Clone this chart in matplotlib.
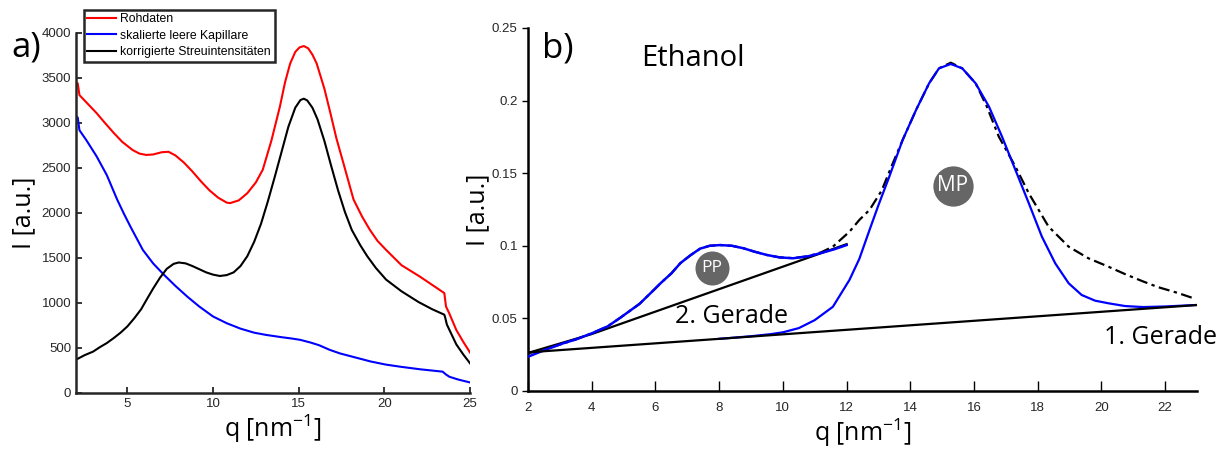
import numpy as np
import matplotlib
matplotlib.use('Agg')
import matplotlib.pyplot as plt

plt.rcParams['font.family'] = ['Open Sans', 'DejaVu Sans']
plt.rcParams['mathtext.fontset'] = 'custom'
plt.rcParams['mathtext.rm'] = 'Open Sans'
plt.rcParams['mathtext.default'] = 'regular'

# ---- panel a: raw data, scaled empty capillary, corrected intensity
q_roh = [2.0, 2.1, 2.2, 2.6, 3.2, 3.6, 4.2, 4.7, 5.3, 5.7, 6.1, 6.5, 7.0, 7.4, 7.8,
         8.3, 8.8, 9.3, 9.8, 10.3, 10.8, 11.0, 11.5, 12.0, 12.5, 12.9, 13.4, 13.9,
         14.2, 14.5, 14.8, 15.05, 15.3, 15.55, 15.8, 16.05, 16.5, 16.85, 17.2, 17.6,
         18.2, 18.7, 19.16, 19.6, 20.1, 21.0, 22.1, 22.8, 23.5, 23.6, 23.8, 24.2, 24.6,
         25.0]
I_roh = [3450, 3440, 3310, 3230, 3110, 3020, 2890, 2790, 2700, 2660, 2645, 2650, 2675,
         2680, 2640, 2560, 2460, 2350, 2250, 2170, 2115, 2110, 2140, 2220, 2340, 2480,
         2800, 3180, 3450, 3660, 3790, 3840, 3855, 3830, 3760, 3660, 3380, 3110, 2830,
         2560, 2150, 1960, 1811, 1690, 1590, 1420, 1290, 1200, 1110, 960, 880, 700, 570,
         450]

q_kap = [2.0, 2.1, 2.2, 2.6, 3.2, 3.8, 4.4, 4.8, 5.2, 5.9, 6.5, 7.1, 7.8, 8.5, 9.2,
         10.0, 10.8, 11.6, 12.4, 13.1, 14.0, 14.6, 15.1, 15.7, 16.2, 16.8, 17.4, 18.2,
         19.2, 20.1, 21.0, 22.1, 23.0, 23.4, 23.6, 23.8, 24.3, 25.0]
I_kap = [3080, 3060, 2920, 2810, 2630, 2420, 2150, 1990, 1840, 1590, 1440, 1320, 1190,
         1070, 960, 850, 775, 715, 670, 645, 620, 605, 590, 560, 530, 480, 440, 400, 350,
         315, 290, 263, 245, 237, 205, 180, 150, 117]

q_korr = [2.0, 2.5, 3.0, 3.4, 3.8, 4.2, 4.6, 5.0, 5.4, 5.8, 6.1, 6.5, 6.9, 7.3, 7.7,
          8.0, 8.4, 8.8, 9.2, 9.6, 10.0, 10.4, 10.8, 11.2, 11.6, 12.0, 12.4, 12.8, 13.2,
          13.6, 14.0, 14.4, 14.8, 15.1, 15.3, 15.5, 15.8, 16.1, 16.5, 16.9, 17.3, 17.7,
          18.1, 18.6, 19.0, 19.5, 20.1, 21.0, 22.0, 22.8, 23.5, 23.55, 23.65, 23.8, 24.2,
          24.6, 25.0]
I_korr = [370, 420, 460, 510, 555, 610, 670, 740, 830, 930, 1030, 1160, 1280, 1380,
          1435, 1450, 1440, 1410, 1375, 1340, 1315, 1300, 1310, 1340, 1410, 1520, 1680,
          1880, 2130, 2400, 2680, 2960, 3170, 3255, 3270, 3250, 3170, 3040, 2800, 2520,
          2250, 2010, 1811, 1640, 1520, 1390, 1260, 1130, 1010, 930, 870, 840, 760, 700,
          540, 430, 330]

# ---- panel b: ethanol, fits of pre-peak (PP) and main peak (MP)
q_data = [2.0, 2.5, 3.0, 3.5, 4.0, 4.5, 4.9, 5.5, 5.95, 6.16, 6.5, 6.78, 7.1, 7.4, 7.7,
          8.03, 8.4, 8.76, 9.1, 9.49, 9.9, 10.32, 10.8, 11.2, 11.57, 12.09, 12.4, 12.72,
          13.1, 13.45, 13.76, 14.18, 14.59, 14.9, 15.27, 15.63, 16.05, 16.4, 16.78, 17.3,
          17.72, 18.34, 18.97, 19.59, 20.22, 20.74, 21.3, 21.78, 22.4, 22.95]
I_data = [0.026, 0.0285, 0.032, 0.0355, 0.0397, 0.0445, 0.0505, 0.060, 0.0696, 0.0742,
          0.081, 0.088, 0.0935, 0.098, 0.100, 0.1005, 0.100, 0.0983, 0.096, 0.0937,
          0.092, 0.0915, 0.0928, 0.0955, 0.0994, 0.1097, 0.1178, 0.1247, 0.138, 0.1568,
          0.1729, 0.1935, 0.2119, 0.2222, 0.2261, 0.2222, 0.2119, 0.196, 0.1751, 0.1545,
          0.1361, 0.1132, 0.0994, 0.0914, 0.0856, 0.0805, 0.0755, 0.0715, 0.0675, 0.0634]

q_pp = [2.0, 2.5, 3.1, 3.5, 4.0, 4.5, 4.9, 5.5, 5.95, 6.16, 6.5, 6.78, 7.1, 7.4, 7.7,
        8.03, 8.4, 8.76, 9.1, 9.49, 9.9, 10.32, 10.8, 11.16, 11.6, 12.0]
I_pp = [0.0236, 0.028, 0.0328, 0.0355, 0.0397, 0.0445, 0.0505, 0.060, 0.0696, 0.0742,
        0.081, 0.088, 0.0935, 0.098, 0.100, 0.1005, 0.100, 0.0983, 0.096, 0.0937, 0.092,
        0.0914, 0.0928, 0.0948, 0.0975, 0.1005]

q_mp = [8.0, 9.0, 9.6, 10.0, 10.5, 11.0, 11.57, 12.09, 12.4, 12.72, 13.0, 13.34, 13.76,
        14.18, 14.59, 14.9, 15.27, 15.63, 16.05, 16.47, 16.88, 17.3, 17.72, 18.13, 18.55,
        18.97, 19.38, 19.8, 20.22, 20.74, 21.3, 22.0, 22.95]
I_mp = [0.0359, 0.0377, 0.0391, 0.0404, 0.0433, 0.0488, 0.058, 0.0765, 0.091, 0.1109,
        0.128, 0.1476, 0.1729, 0.1935, 0.2119, 0.2222, 0.2252, 0.2222, 0.2119, 0.1958,
        0.1751, 0.1522, 0.1293, 0.1063, 0.0879, 0.0742, 0.0661, 0.0622, 0.0604, 0.0585,
        0.0578, 0.0582, 0.0592]

gerade1_q = [2.0, 23.0]
gerade1_I = [0.0266, 0.0592]
gerade2_q = [2.0, 4.0, 12.0]
gerade2_I = [0.0262, 0.0392, 0.1011]

fig = plt.figure(figsize=(12.32, 4.55), dpi=100)

# ---------------- panel a
ax1 = fig.add_axes([0.0617, 0.1363, 0.3198, 0.7912])
ax1.plot(q_roh, I_roh, color='red', lw=1.5, label='Rohdaten')
ax1.plot(q_kap, I_kap, color='blue', lw=1.5, label='skalierte leere Kapillare')
ax1.plot(q_korr, I_korr, color='black', lw=1.5, label='korrigierte Streuintensitäten')
ax1.set_xlim(2, 25)
ax1.set_ylim(0, 4000)
ax1.set_xticks([5, 10, 15, 20, 25])
ax1.set_yticks(range(0, 4001, 500))
for s in ['top', 'right']:
    ax1.spines[s].set_visible(False)
for s in ['left', 'bottom']:
    ax1.spines[s].set_linewidth(1.8)
    ax1.spines[s].set_color('#262626')
ax1.tick_params(direction='in', length=4, width=1.3, labelsize=9.5,
                labelcolor='#262626', color='#262626', labelfontfamily='Liberation Sans')
ax1.set_xlabel(r'q [nm$^{-1}$]', fontsize=18, labelpad=2)
ax1.set_ylabel('I [a.u.]', fontsize=18, labelpad=4)
leg = fig.legend(loc='upper left', bbox_to_anchor=(0.063, 0.992), fancybox=False,
                 framealpha=1, edgecolor='#262626', handlelength=2.3, borderpad=0.3,
                 labelspacing=0.35, handletextpad=0.4,
                 prop={'family': 'Liberation Sans', 'size': 8.8})
leg.get_frame().set_linewidth(1.8)
fig.text(0.021, 0.895, 'a)', fontsize=25, ha='center', va='center')

# ---------------- panel b
ax2 = fig.add_axes([0.4286, 0.1407, 0.543, 0.7978])
ax2.plot(q_data, I_data, color='black', lw=1.6, dashes=(5, 2, 1.5, 2), zorder=2)
ax2.plot(gerade2_q, gerade2_I, color='black', lw=1.6, zorder=2.5)
ax2.plot(q_pp, I_pp, color='blue', lw=1.8, zorder=3)
ax2.plot(q_mp, I_mp, color='blue', lw=1.6, zorder=3)
ax2.plot(gerade1_q, gerade1_I, color='black', lw=1.6, zorder=3.5)
ax2.set_xlim(2, 23)
ax2.set_ylim(0, 0.25)
ax2.set_xticks(range(2, 23, 2))
ax2.set_yticks([0, 0.05, 0.1, 0.15, 0.2, 0.25])
ax2.set_yticklabels(['0', '0.05', '0.1', '0.15', '0.2', '0.25'])
for s in ['top', 'right']:
    ax2.spines[s].set_visible(False)
for s in ['left', 'bottom']:
    ax2.spines[s].set_linewidth(1.8)
ax2.tick_params(axis='x', direction='in', length=7, width=1.0, pad=8)
ax2.tick_params(axis='y', direction='out', length=4, width=1.0)
ax2.tick_params(labelsize=9.5, labelcolor='#262626', labelfontfamily='Liberation Sans')
ax2.set_xlabel(r'q [nm$^{-1}$]', fontsize=18, labelpad=2)
ax2.set_ylabel('I [a.u.]', fontsize=18, labelpad=1)

ax2.text(2.94, 0.236, 'b)', fontsize=25, ha='center', va='center')
ax2.text(7.16, 0.229, 'Ethanol', fontsize=21, ha='center', va='center')
ax2.text(8.4, 0.051, '2. Gerade', fontsize=18, ha='center', va='center')
ax2.text(21.84, 0.0365, '1. Gerade', fontsize=18, ha='center', va='center', clip_on=False)

ax2.plot([7.77], [0.0849], 'o', ms=24.5, color='#666666', mec='none', zorder=4)
ax2.text(7.77, 0.0849, 'PP', fontsize=12.5, color='white', ha='center', va='center',
         zorder=5)
ax2.plot([15.34], [0.1414], 'o', ms=29, color='#666666', mec='none', zorder=4)
ax2.text(15.34, 0.1414, 'MP', fontsize=15, color='white', ha='center', va='center',
         zorder=5)

fig.savefig('out.png', dpi=100)
